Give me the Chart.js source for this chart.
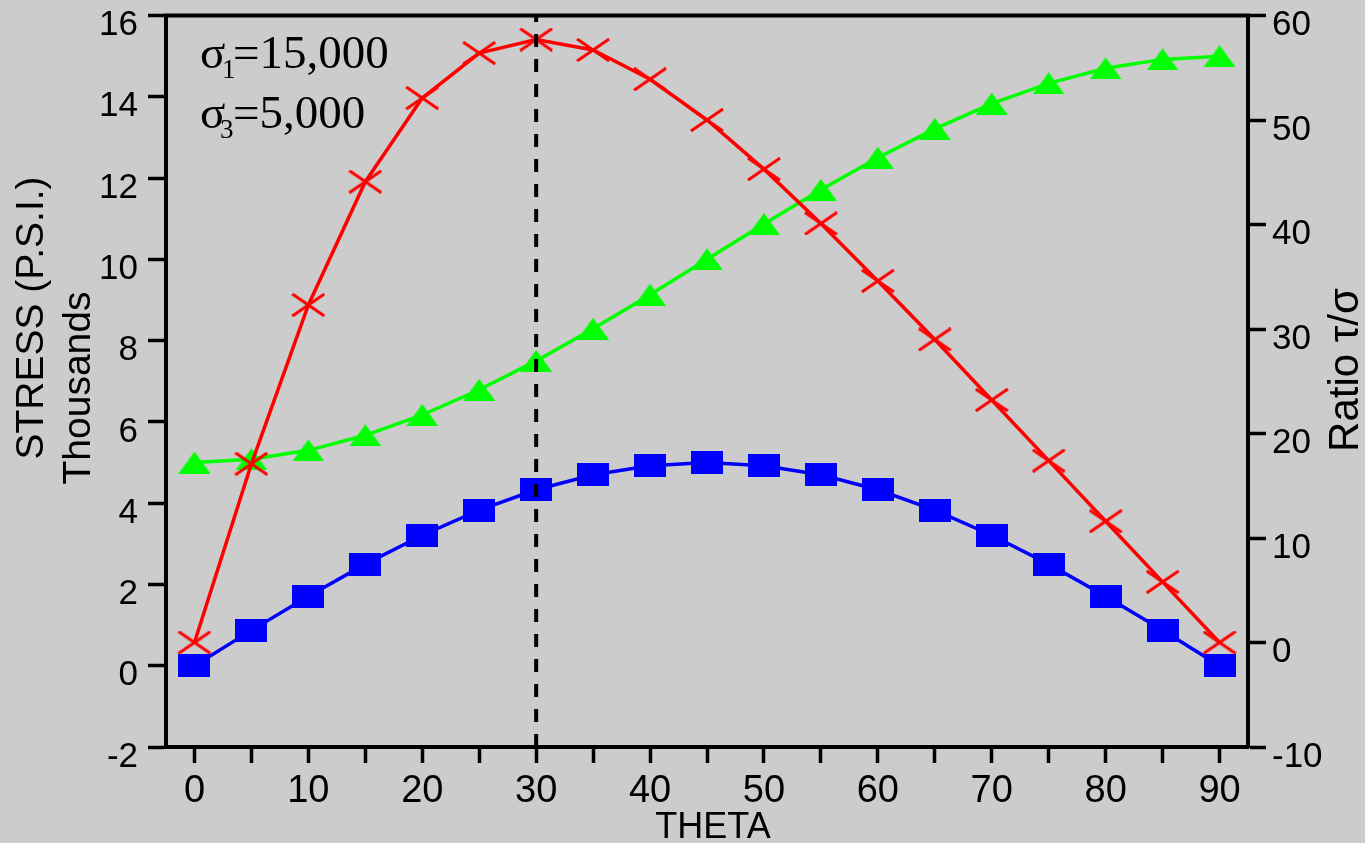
<!DOCTYPE html>
<html>
<head>
<meta charset="utf-8">
<title>Stress vs Theta</title>
<script src="https://cdn.jsdelivr.net/npm/chart.js@4/dist/chart.umd.min.js"></script>
<style>
  html, body { margin: 0; padding: 0; background: #cccccc; }
  canvas { display: block; }
</style>
</head>
<body>
<canvas id="chart-stress" width="1365" height="843"></canvas>
<script>
// values
var theta = [0, 5, 10, 15, 20, 25, 30, 35, 40, 45, 50, 55, 60, 65, 70, 75, 80, 85, 90];
// shear stress, thousands of psi (left axis)
var shearStress = [0, 0.87, 1.71, 2.5, 3.21, 3.83, 4.33, 4.7, 4.92, 5, 4.92, 4.7, 4.33, 3.83, 3.21, 2.5, 1.71, 0.87, 0];
// normal stress, thousands of psi (left axis)
var normalStress = [5, 5.08, 5.3, 5.67, 6.17, 6.79, 7.5, 8.29, 9.13, 10, 10.87, 11.71, 12.5, 13.21, 13.83, 14.33, 14.7, 14.92, 15];
// ratio tau/sigma (right axis)
var stressRatio = [0, 17.1, 32.3, 44.1, 52.1, 56.4, 57.7, 56.7, 53.9, 50, 45.3, 40.1, 34.6, 29, 23.2, 17.4, 11.6, 5.8, 0];
// dashed marker line at theta = 30
var refLineX = [30, 30];
var refLineY = [-2, 16];
var xTickValues = [0, 5, 10, 15, 20, 25, 30, 35, 40, 45, 50, 55, 60, 65, 70, 75, 80, 85, 90];

var SANS = "'Liberation Sans', Arial, sans-serif";
var SERIF = "'Liberation Serif', 'Times New Roman', serif";

function pairs(xs, ys) {
  return xs.map(function (x, i) { return { x: x, y: ys[i] }; });
}

function makeSquare() {
  var c = document.createElement("canvas");
  c.width = 32; c.height = 23;
  var g = c.getContext("2d");
  g.fillStyle = "#0000ff";
  g.fillRect(0, 0, 32, 23);
  return c;
}

function makeTriangle() {
  var c = document.createElement("canvas");
  c.width = 32; c.height = 22;
  var g = c.getContext("2d");
  g.fillStyle = "#00ff00";
  g.beginPath();
  g.moveTo(16, 0);
  g.lineTo(32, 22);
  g.lineTo(0, 22);
  g.closePath();
  g.fill();
  return c;
}

function makeCross() {
  var c = document.createElement("canvas");
  c.width = 34; c.height = 24;
  var g = c.getContext("2d");
  g.strokeStyle = "#ff0000";
  g.lineWidth = 3;
  g.beginPath();
  g.moveTo(1, 1); g.lineTo(33, 23);
  g.moveTo(33, 1); g.lineTo(1, 23);
  g.stroke();
  return c;
}

var textPlugin = {
  id: "stressText",
  afterDraw: function (chart) {
    var ctx = chart.ctx;
    var area = chart.chartArea;
    ctx.save();

    // top frame line
    ctx.strokeStyle = "#000";
    ctx.lineWidth = 4;
    ctx.beginPath();
    ctx.moveTo(area.left - 2, area.top);
    ctx.lineTo(area.right + 2, area.top);
    ctx.stroke();

    ctx.fillStyle = "#000";
    ctx.textBaseline = "alphabetic";

    // sigma annotations
    ctx.textAlign = "left";
    ctx.font = "47px " + SERIF;
    ctx.fillText("σ", 200, 68);
    ctx.fillText("=15,000", 233, 68);
    ctx.fillText("σ", 200, 128);
    ctx.fillText("=5,000", 233, 128);
    ctx.font = "27px " + SERIF;
    ctx.fillText("1", 222, 78);
    ctx.fillText("3", 220, 138);

    // x title
    ctx.textAlign = "center";
    ctx.font = "36px " + SANS;
    ctx.fillText("THETA", 713, 838);

    // left title, two lines
    ctx.save();
    ctx.translate(43, 318);
    ctx.rotate(-Math.PI / 2);
    ctx.font = "39px " + SANS;
    ctx.fillText("STRESS (P.S.I.)", 0, 0);
    ctx.restore();

    ctx.save();
    ctx.translate(90, 388);
    ctx.rotate(-Math.PI / 2);
    ctx.font = "39px " + SANS;
    ctx.fillText("Thousands", 0, 0);
    ctx.restore();

    // right title
    ctx.save();
    ctx.translate(1358, 370);
    ctx.rotate(-Math.PI / 2);
    ctx.font = "42px " + SANS;
    ctx.fillText("Ratio τ/σ", 0, 0);
    ctx.restore();

    ctx.restore();
  }
};

document.addEventListener("DOMContentLoaded", function () {
  var ctx = document.getElementById("chart-stress");

  new Chart(ctx, {
    type: "line",
    data: {
      datasets: [
        {
          label: "dashed",
          data: pairs(refLineX, refLineY),
          yAxisID: "y",
          borderColor: "#000",
          borderWidth: 4,
          borderDash: [13, 12],
          pointRadius: 0,
          order: 0,
        },
        {
          label: "Shear",
          data: pairs(theta, shearStress),
          yAxisID: "y",
          borderColor: "#0000ff",
          borderWidth: 3.5,
          pointStyle: makeSquare(),
          pointRadius: 12,
          order: 1,
        },
        {
          label: "Ratio",
          data: pairs(theta, stressRatio),
          yAxisID: "y2",
          borderColor: "#ff0000",
          borderWidth: 3.5,
          pointStyle: makeCross(),
          pointRadius: 12,
          order: 2,
        },
        {
          label: "Normal",
          data: pairs(theta, normalStress),
          yAxisID: "y",
          borderColor: "#00ff00",
          borderWidth: 3.5,
          pointStyle: makeTriangle(),
          pointRadius: 12,
          order: 3,
        },
      ],
    },
    options: {
      responsive: false,
      animation: false,
      devicePixelRatio: 1,
      clip: false,
      layout: { padding: { top: 14, left: 0, right: 0, bottom: 0 } },
      plugins: {
        legend: { display: false },
        tooltip: { enabled: false },
      },
      scales: {
        x: {
          type: "linear",
          min: -2.5,
          max: 92.5,
          afterBuildTicks: function (scale) {
            scale.ticks = xTickValues.map(function (v) { return { value: v }; });
          },
          afterFit: function (scale) {
            scale.height = 96;
            scale.paddingLeft = 0;
            scale.paddingRight = 0;
          },
          border: { display: true, color: "#000", width: 4 },
          grid: { drawOnChartArea: false, tickLength: 16, tickColor: "#000", tickWidth: 3.5 },
          ticks: {
            color: "#000",
            font: { family: SANS, size: 38 },
            padding: 6,
            maxRotation: 0,
            autoSkip: false,
            callback: function (value) { return value % 10 === 0 ? String(value) : ""; },
          },
        },
        y: {
          position: "left",
          min: -2,
          max: 16,
          afterFit: function (scale) {
            scale.width = 166;
            scale.paddingTop = 0;
            scale.paddingBottom = 0;
          },
          border: { display: true, color: "#000", width: 4 },
          grid: { drawOnChartArea: false, tickLength: 18, tickColor: "#000", tickWidth: 3.5 },
          ticks: {
            stepSize: 2,
            color: "#000",
            font: { family: SANS, size: 35 },
            padding: 10,
            labelOffset: 10,
          },
        },
        y2: {
          position: "right",
          min: -10,
          max: 60,
          afterFit: function (scale) {
            scale.width = 117;
            scale.paddingTop = 0;
            scale.paddingBottom = 0;
          },
          border: { display: true, color: "#000", width: 4 },
          grid: { drawOnChartArea: false, tickLength: 18, tickColor: "#000", tickWidth: 3.5 },
          ticks: {
            stepSize: 10,
            color: "#000",
            font: { family: SANS, size: 35 },
            padding: 6,
            labelOffset: 10,
          },
        },
      },
    },
    plugins: [textPlugin],
  });
});
</script>
</body>
</html>
